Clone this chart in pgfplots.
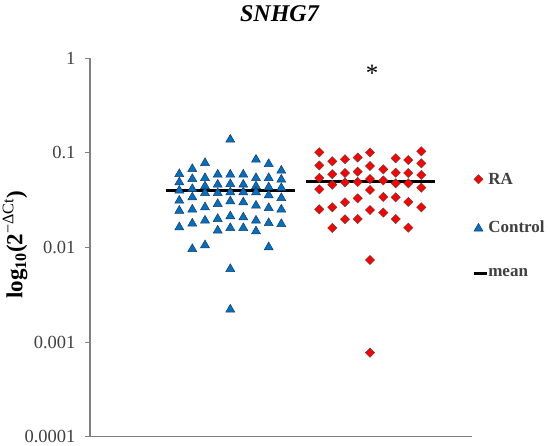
\documentclass[border=0pt]{standalone}
\usepackage{pgfplots}
\usepackage{pgfplotstable}
\pgfplotsset{compat=1.18}
\usepackage{fontspec}
\setmainfont{Liberation Serif}
\definecolor{ctrlblue}{HTML}{0070C0}
\definecolor{ctrledge}{HTML}{1F3864}
\definecolor{rared}{HTML}{FF0000}
\definecolor{axgray}{HTML}{808080}
\definecolor{txtgray}{HTML}{404040}
\pgfplotsset{
  markleg/.style={legend image code/.code={\draw[##1] plot coordinates {(4pt,0pt)};}},
  meanleg/.style={legend image code/.code={\draw[black, line width=2.6pt] (-1pt,0pt) -- (12pt,0pt);}},
}

\pgfplotstableread{
x y
179.3 0.0617
179.3 0.0505
179.3 0.0412
179.3 0.0323
179.3 0.0253
179.3 0.0169
192.3 0.0698
192.3 0.0547
192.3 0.0429
192.3 0.0350
192.3 0.0260
192.3 0.0185
192.3 0.00995
205.0 0.0807
205.0 0.0560
205.0 0.0458
205.0 0.0389
205.0 0.0275
205.0 0.0199
205.0 0.0109
217.7 0.0609
217.7 0.0477
217.7 0.0389
217.7 0.0298
217.7 0.0207
217.7 0.0156
230.3 0.1426
230.3 0.0609
230.3 0.0484
230.3 0.0396
230.3 0.0318
230.3 0.0221
230.3 0.0166
230.3 0.00612
230.3 0.00228
243.3 0.0609
243.3 0.0477
243.3 0.0396
243.3 0.0310
243.3 0.0215
243.3 0.0166
256.0 0.0877
256.0 0.0560
256.0 0.0458
256.0 0.0396
256.0 0.0286
256.0 0.0199
256.0 0.0153
268.7 0.0788
268.7 0.0560
268.7 0.0447
268.7 0.0368
268.7 0.0270
268.7 0.0187
268.7 0.0104
281.3 0.0671
281.3 0.0539
281.3 0.0439
281.3 0.0344
281.3 0.0260
281.3 0.0183
}\ctrltable

\pgfplotstableread{
x y
319.3 0.1015
319.3 0.0736
319.3 0.0543
319.3 0.0412
319.3 0.0253
332.3 0.0815
332.3 0.0595
332.3 0.0461
332.3 0.0266
332.3 0.0161
345.0 0.0856
345.0 0.0613
345.0 0.0487
345.0 0.0301
345.0 0.0199
357.7 0.0894
357.7 0.0633
357.7 0.0493
357.7 0.0331
357.7 0.0200
370.0 0.1010
370.0 0.0727
370.0 0.0530
370.0 0.0405
370.0 0.0249
370.0 0.00738
370.0 0.000773
383.3 0.0671
383.3 0.0511
383.3 0.0342
383.3 0.0234
395.7 0.0877
395.7 0.0617
395.7 0.0477
395.7 0.0339
395.7 0.0200
408.3 0.0841
408.3 0.0613
408.3 0.0477
408.3 0.0303
408.3 0.0162
421.3 0.1040
421.3 0.0776
421.3 0.0584
421.3 0.0429
421.3 0.0266
}\ratable

\begin{document}
\begin{tikzpicture}
\path[use as bounding box] (0,0) rectangle (550pt,446pt);
\begin{axis}[
  at={(90pt,9.3pt)}, anchor=south west,
  scale only axis, width=382pt, height=378.4pt,
  xmin=90, xmax=472,
  ymode=log, ymin=1e-4, ymax=1,
  axis x line*=bottom, axis y line*=left,
  axis line style={axgray, line width=1.3pt},
  xtick=\empty,
  ytick={1e-4,1e-3,1e-2,1e-1,1},
  yticklabels={0.0001,0.001,0.01,0.1,1},
  yminorticks=false,
  tick align=outside, major tick length=5pt,
  tick style={axgray, line width=1pt},
  yticklabel style={font=\fontsize{18.5}{22}\selectfont, text=txtgray, xshift=-6pt},
  title={\textbf{\textit{SNHG7}}},
  title style={at={(axis description cs:0.497,1.103)}, anchor=center, font=\fontsize{24}{28}\selectfont},
  ylabel={{\bfseries log\textsubscript{10}(2}\textsuperscript{−ΔCt}{\bfseries )}},
  ylabel style={at={(axis description cs:-0.196,0.507)}, anchor=center, font=\fontsize{23}{27}\selectfont},
  clip=false,
  legend style={at={(axis description cs:1.0,0.699)}, anchor=north west, draw=none, fill=none,
    font=\fontsize{17}{20}\selectfont\bfseries, text=txtgray, row sep=34pt, inner sep=0pt,
    nodes={inner sep=0.5pt}},
  legend cell align=left,
]
\addplot[only marks, mark=square*, mark size=3.3pt,
  mark options={rotate=45, fill=rared, draw=gray!60!black, line width=0.4pt}, markleg]
  table[x=x,y=y] {\ratable};
\addlegendentry{RA}
\addplot[only marks, mark=triangle*, mark size=5.2pt,
  mark options={fill=ctrlblue, draw=ctrledge, line width=0.5pt, yshift=-1.3pt}, markleg]
  table[x=x,y=y] {\ctrltable};
\addlegendentry{Control}
\addplot[black, line width=2.6pt, forget plot] coordinates {(166,0.0400) (295,0.0400)};
\addplot[black, line width=2.6pt, meanleg]
  coordinates {(306,0.0497) (435,0.0497)};
\addlegendentry{mean}
\node[font=\fontsize{25}{28}\selectfont, yshift=-3pt] at (axis cs:372,0.75) {*};
\end{axis}
\end{tikzpicture}
\end{document}
